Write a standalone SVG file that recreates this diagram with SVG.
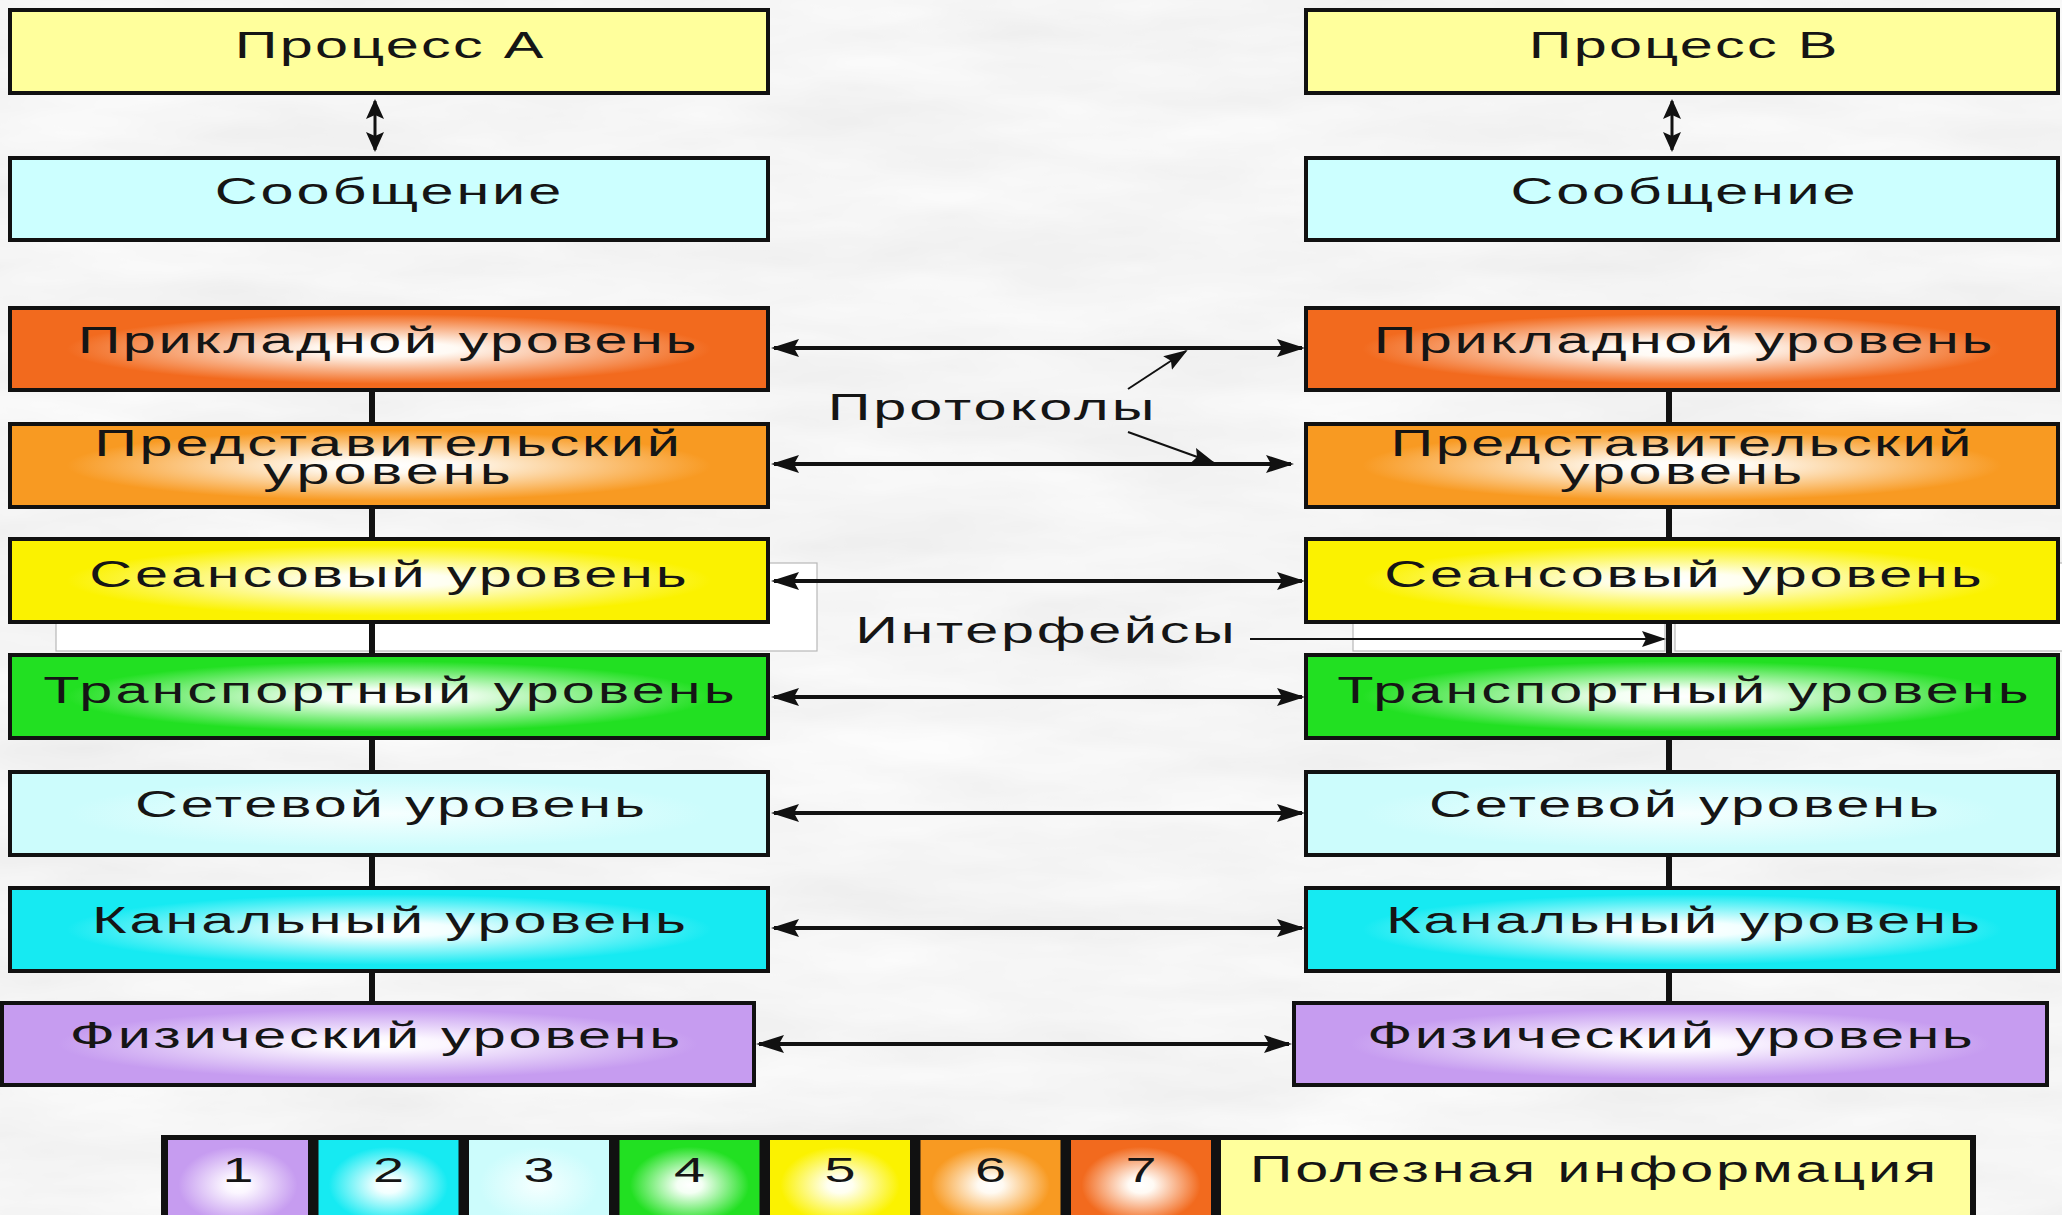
<svg xmlns="http://www.w3.org/2000/svg" width="2062" height="1215" viewBox="0 0 2062 1215">
  <style>
    .box { stroke: #111; stroke-width: 4; }
    .lbl { font-family: "Liberation Sans", Arial, sans-serif; font-size: 36px; fill: #151515; text-anchor: middle; }
    .link { stroke: #111; stroke-width: 4; fill: none; }
    .stem { stroke: #111; stroke-width: 6; fill: none; }
    .thin { stroke: #111; stroke-width: 2; fill: none; }
    .pane { fill: #ffffff; stroke: #b8b8b8; stroke-width: 1.2; }
  </style>
  <defs>
    <filter id="marble" x="0" y="0" width="100%" height="100%">
      <feTurbulence type="fractalNoise" baseFrequency="0.004 0.018" numOctaves="4" seed="7"/>
      <feColorMatrix type="matrix" values="0.16 0 0 0 0.83  0.16 0 0 0 0.83  0.16 0 0 0 0.83  0 0 0 0 1"/>
    </filter>
    <radialGradient id="g7"><stop offset="0" stop-color="#ffffff"/><stop offset="0.18" stop-color="#fffaf4"/><stop offset="0.85" stop-color="#f26a1e"/></radialGradient>
    <radialGradient id="g6"><stop offset="0" stop-color="#ffffff"/><stop offset="0.18" stop-color="#fffaf2"/><stop offset="0.85" stop-color="#f89a22"/></radialGradient>
    <radialGradient id="g5"><stop offset="0" stop-color="#ffffff"/><stop offset="0.18" stop-color="#fffff0"/><stop offset="0.85" stop-color="#fbf200"/></radialGradient>
    <radialGradient id="g4"><stop offset="0" stop-color="#ffffff"/><stop offset="0.18" stop-color="#f4fff4"/><stop offset="0.85" stop-color="#22e022"/></radialGradient>
    <radialGradient id="g3"><stop offset="0" stop-color="#f6ffff"/><stop offset="0.85" stop-color="#ccfcfc"/></radialGradient>
    <radialGradient id="g2"><stop offset="0" stop-color="#ffffff"/><stop offset="0.18" stop-color="#f2ffff"/><stop offset="0.85" stop-color="#16eaf2"/></radialGradient>
    <radialGradient id="g1"><stop offset="0" stop-color="#ffffff"/><stop offset="0.18" stop-color="#fbf6ff"/><stop offset="0.85" stop-color="#c69cf0"/></radialGradient>
    <marker id="head" markerUnits="userSpaceOnUse" markerWidth="30" markerHeight="20" refX="25" refY="10" orient="auto-start-reverse">
      <path d="M0,1 L28,10 L0,19 L5,10 z" fill="#111"/>
    </marker>
    <marker id="head-s" markerUnits="userSpaceOnUse" markerWidth="22" markerHeight="20" refX="18" refY="10" orient="auto-start-reverse">
      <path d="M0,1 L20,10 L0,19 L4,10 z" fill="#111"/>
    </marker>
    <marker id="head-t" markerUnits="userSpaceOnUse" markerWidth="26" markerHeight="18" refX="22" refY="9" orient="auto">
      <path d="M0,1 L24,9 L0,17 L4,9 z" fill="#111"/>
    </marker>
  </defs>

  <!-- mottled grey backdrop -->
  <rect x="0" y="0" width="2062" height="1215" fill="#e6e6e6"/>
  <rect x="0" y="0" width="2062" height="1215" filter="url(#marble)"/>

  <!-- white panes behind the session layer -->
  <g id="panes">
    <rect class="pane" x="56" y="563" width="761" height="88"/>
    <rect class="pane" x="1353" y="563" width="312" height="88"/>
    <rect class="pane" x="1675" y="563" width="400" height="88"/>
  </g>

  <!-- vertical links between layers -->
  <g id="stems">
    <path class="stem" d="M372,390 V424 M372,507 V540 M372,622 V656 M372,738 V772 M372,855 V888 M372,971 V1004"/>
    <path class="stem" d="M1669,390 V424 M1669,507 V540 M1669,622 V656 M1669,738 V772 M1669,855 V888 M1669,971 V1004"/>
  </g>

  <!-- stack A (labels use a 1.65x horizontal stretch) -->
  <g id="proc-a"><rect class="box" x="10" y="10" width="758" height="83" fill="#ffff9c"/>
    <text class="lbl" transform="matrix(1.65 0 0 1 389 0)" x="0" y="58" textLength="187" lengthAdjust="spacing">Процесс А</text></g>
  <g id="msg-a"><rect class="box" x="10" y="158" width="758" height="82" fill="#ccffff"/>
    <text class="lbl" transform="matrix(1.65 0 0 1 388 0)" x="0" y="204" textLength="210" lengthAdjust="spacing">Сообщение</text></g>
  <g id="app-a"><rect class="box" x="10" y="308" width="758" height="82" fill="url(#g7)"/>
    <text class="lbl" transform="matrix(1.65 0 0 1 387 0)" x="0" y="353" textLength="375" lengthAdjust="spacing">Прикладной уровень</text></g>
  <g id="pres-a"><rect class="box" x="10" y="424" width="758" height="83" fill="url(#g6)"/>
    <text class="lbl" transform="matrix(1.65 0 0 1 387 0)"><tspan x="0" y="456" textLength="355" lengthAdjust="spacing">Представительский</tspan><tspan x="0" y="484" textLength="150" lengthAdjust="spacing">уровень</tspan></text></g>
  <g id="sess-a"><rect class="box" x="10" y="539" width="758" height="83" fill="url(#g5)"/>
    <text class="lbl" transform="matrix(1.65 0 0 1 388 0)" x="0" y="587" textLength="362" lengthAdjust="spacing">Сеансовый уровень</text></g>
  <g id="trans-a"><rect class="box" x="10" y="655" width="758" height="83" fill="url(#g4)"/>
    <text class="lbl" transform="matrix(1.65 0 0 1 389 0)" x="0" y="703" textLength="419" lengthAdjust="spacing">Транспортный уровень</text></g>
  <g id="net-a"><rect class="box" x="10" y="772" width="758" height="83" fill="url(#g3)"/>
    <text class="lbl" transform="matrix(1.65 0 0 1 390 0)" x="0" y="817" textLength="309" lengthAdjust="spacing">Сетевой уровень</text></g>
  <g id="link-a"><rect class="box" x="10" y="888" width="758" height="83" fill="url(#g2)"/>
    <text class="lbl" transform="matrix(1.65 0 0 1 389 0)" x="0" y="933" textLength="360" lengthAdjust="spacing">Канальный уровень</text></g>
  <g id="phys-a"><rect class="box" x="2" y="1003" width="752" height="82" fill="url(#g1)"/>
    <text class="lbl" transform="matrix(1.65 0 0 1 375 0)" x="0" y="1048" textLength="370" lengthAdjust="spacing">Физический уровень</text></g>

  <!-- stack B -->
  <g id="proc-b"><rect class="box" x="1306" y="10" width="752" height="83" fill="#ffff9c"/>
    <text class="lbl" transform="matrix(1.65 0 0 1 1683 0)" x="0" y="58" textLength="187" lengthAdjust="spacing">Процесс В</text></g>
  <g id="msg-b"><rect class="box" x="1306" y="158" width="752" height="82" fill="#ccffff"/>
    <text class="lbl" transform="matrix(1.65 0 0 1 1683 0)" x="0" y="204" textLength="209" lengthAdjust="spacing">Сообщение</text></g>
  <g id="app-b"><rect class="box" x="1306" y="308" width="752" height="82" fill="url(#g7)"/>
    <text class="lbl" transform="matrix(1.65 0 0 1 1683 0)" x="0" y="353" textLength="375" lengthAdjust="spacing">Прикладной уровень</text></g>
  <g id="pres-b"><rect class="box" x="1306" y="424" width="752" height="83" fill="url(#g6)"/>
    <text class="lbl" transform="matrix(1.65 0 0 1 1681 0)"><tspan x="0" y="456" textLength="352" lengthAdjust="spacing">Представительский</tspan><tspan x="0" y="484" textLength="147" lengthAdjust="spacing">уровень</tspan></text></g>
  <g id="sess-b"><rect class="box" x="1306" y="539" width="752" height="83" fill="url(#g5)"/>
    <text class="lbl" transform="matrix(1.65 0 0 1 1683 0)" x="0" y="587" textLength="362" lengthAdjust="spacing">Сеансовый уровень</text></g>
  <g id="trans-b"><rect class="box" x="1306" y="655" width="752" height="83" fill="url(#g4)"/>
    <text class="lbl" transform="matrix(1.65 0 0 1 1683 0)" x="0" y="703" textLength="419" lengthAdjust="spacing">Транспортный уровень</text></g>
  <g id="net-b"><rect class="box" x="1306" y="772" width="752" height="83" fill="url(#g3)"/>
    <text class="lbl" transform="matrix(1.65 0 0 1 1684 0)" x="0" y="817" textLength="309" lengthAdjust="spacing">Сетевой уровень</text></g>
  <g id="link-b"><rect class="box" x="1306" y="888" width="752" height="83" fill="url(#g2)"/>
    <text class="lbl" transform="matrix(1.65 0 0 1 1683 0)" x="0" y="933" textLength="360" lengthAdjust="spacing">Канальный уровень</text></g>
  <g id="phys-b"><rect class="box" x="1294" y="1003" width="753" height="82" fill="url(#g1)"/>
    <text class="lbl" transform="matrix(1.65 0 0 1 1670 0)" x="0" y="1048" textLength="367" lengthAdjust="spacing">Физический уровень</text></g>

  <!-- peer-to-peer arrows and process arrows -->
  <g id="connectors">
    <line class="thin" x1="375" y1="101" x2="375" y2="150" style="stroke-width:3" marker-start="url(#head-s)" marker-end="url(#head-s)"/>
    <line class="thin" x1="1672" y1="101" x2="1672" y2="150" style="stroke-width:3" marker-start="url(#head-s)" marker-end="url(#head-s)"/>
    <line class="link" x1="774" y1="348" x2="1302" y2="348" marker-start="url(#head)" marker-end="url(#head)"/>
    <line class="link" x1="774" y1="464" x2="1291" y2="464" marker-start="url(#head)" marker-end="url(#head)"/>
    <line class="link" x1="774" y1="581" x2="1302" y2="581" marker-start="url(#head)" marker-end="url(#head)"/>
    <line class="link" x1="774" y1="697" x2="1302" y2="697" marker-start="url(#head)" marker-end="url(#head)"/>
    <line class="link" x1="774" y1="813" x2="1302" y2="813" marker-start="url(#head)" marker-end="url(#head)"/>
    <line class="link" x1="774" y1="928" x2="1302" y2="928" marker-start="url(#head)" marker-end="url(#head)"/>
    <line class="link" x1="759" y1="1044" x2="1289" y2="1044" marker-start="url(#head)" marker-end="url(#head)"/>
    <!-- pointers from the captions -->
    <line class="thin" x1="1128" y1="389" x2="1186" y2="351" marker-end="url(#head-t)"/>
    <line class="thin" x1="1128" y1="432" x2="1214" y2="463" marker-end="url(#head-t)"/>
    <line class="thin" x1="1250" y1="639" x2="1664" y2="639" marker-end="url(#head-t)"/>
  </g>

  <!-- captions -->
  <g id="captions">
    <text class="lbl" transform="matrix(1.65 0 0 1 991 0)" x="0" y="420" textLength="198" lengthAdjust="spacing">Протоколы</text>
    <text class="lbl" transform="matrix(1.65 0 0 1 1045 0)" x="0" y="643" textLength="230" lengthAdjust="spacing">Интерфейсы</text>
  </g>

  <!-- colour key -->
  <g id="legend">
    <rect x="161" y="1135" width="1815" height="100" fill="#111"/>
    <rect x="168" y="1140" width="140" height="90" fill="url(#g1)"/>
    <rect x="318.5" y="1140" width="140" height="90" fill="url(#g2)"/>
    <rect x="469" y="1140" width="140" height="90" fill="url(#g3)"/>
    <rect x="619.5" y="1140" width="140" height="90" fill="url(#g4)"/>
    <rect x="770" y="1140" width="140" height="90" fill="url(#g5)"/>
    <rect x="920.5" y="1140" width="140" height="90" fill="url(#g6)"/>
    <rect x="1071" y="1140" width="140" height="90" fill="url(#g7)"/>
    <rect x="1221" y="1140" width="749" height="90" fill="#ffff9c"/>
    <text class="lbl" transform="matrix(1.55 0 0 1 238 0)" x="0" y="1182">1</text>
    <text class="lbl" transform="matrix(1.55 0 0 1 388.5 0)" x="0" y="1182">2</text>
    <text class="lbl" transform="matrix(1.55 0 0 1 539 0)" x="0" y="1182">3</text>
    <text class="lbl" transform="matrix(1.55 0 0 1 689.5 0)" x="0" y="1182">4</text>
    <text class="lbl" transform="matrix(1.55 0 0 1 840 0)" x="0" y="1182">5</text>
    <text class="lbl" transform="matrix(1.55 0 0 1 990.5 0)" x="0" y="1182">6</text>
    <text class="lbl" transform="matrix(1.55 0 0 1 1141 0)" x="0" y="1182">7</text>
    <text class="lbl" transform="matrix(1.65 0 0 1 1593 0)" x="0" y="1182" textLength="416" lengthAdjust="spacing">Полезная информация</text>
  </g>
</svg>
